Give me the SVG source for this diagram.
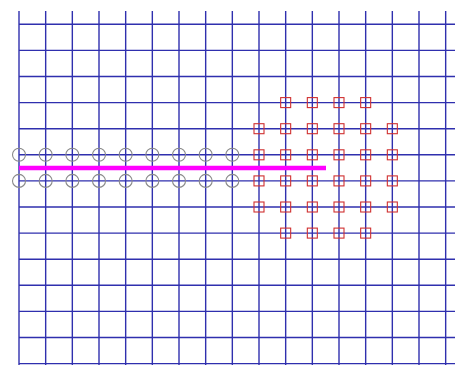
<svg xmlns="http://www.w3.org/2000/svg" width="455" height="365" viewBox="0 0 455 365">
<style>
.g{stroke:#2f2fae;stroke-width:1.4;fill:none}
.c{stroke:#8a8a8a;stroke-width:1.1;fill:none}
.s{stroke:#d03030;stroke-width:1.1;fill:none}
.m{stroke:#ff00ff;stroke-width:4.5;fill:none}
</style>
<rect width="455" height="365" fill="#ffffff"/>
<g id="grid">
<line class="g" x1="19" y1="11" x2="19" y2="365"/>
<line class="g" x1="45.67" y1="11" x2="45.67" y2="365"/>
<line class="g" x1="72.33" y1="11" x2="72.33" y2="365"/>
<line class="g" x1="99" y1="11" x2="99" y2="365"/>
<line class="g" x1="125.67" y1="11" x2="125.67" y2="365"/>
<line class="g" x1="152.33" y1="11" x2="152.33" y2="365"/>
<line class="g" x1="179" y1="11" x2="179" y2="365"/>
<line class="g" x1="205.67" y1="11" x2="205.67" y2="365"/>
<line class="g" x1="232.33" y1="11" x2="232.33" y2="365"/>
<line class="g" x1="259" y1="11" x2="259" y2="365"/>
<line class="g" x1="285.67" y1="11" x2="285.67" y2="365"/>
<line class="g" x1="312.33" y1="11" x2="312.33" y2="365"/>
<line class="g" x1="339" y1="11" x2="339" y2="365"/>
<line class="g" x1="365.67" y1="11" x2="365.67" y2="365"/>
<line class="g" x1="392.33" y1="11" x2="392.33" y2="365"/>
<line class="g" x1="419" y1="11" x2="419" y2="365"/>
<line class="g" x1="445.67" y1="11" x2="445.67" y2="365"/>
<line class="g" x1="19" y1="24.3" x2="455" y2="24.3"/>
<line class="g" x1="19" y1="50.4" x2="455" y2="50.4"/>
<line class="g" x1="19" y1="76.5" x2="455" y2="76.5"/>
<line class="g" x1="19" y1="102.6" x2="455" y2="102.6"/>
<line class="g" x1="19" y1="128.7" x2="455" y2="128.7"/>
<line class="g" x1="19" y1="154.8" x2="455" y2="154.8"/>
<line class="g" x1="19" y1="180.9" x2="455" y2="180.9"/>
<line class="g" x1="19" y1="207" x2="455" y2="207"/>
<line class="g" x1="19" y1="233.1" x2="455" y2="233.1"/>
<line class="g" x1="19" y1="259.2" x2="455" y2="259.2"/>
<line class="g" x1="19" y1="285.3" x2="455" y2="285.3"/>
<line class="g" x1="19" y1="311.4" x2="455" y2="311.4"/>
<line class="g" x1="19" y1="337.5" x2="455" y2="337.5"/>
<line class="g" x1="19" y1="363.6" x2="455" y2="363.6"/>
</g>
<g id="circles">
<circle class="c" cx="19" cy="154.8" r="6.5"/><circle class="c" cx="45.67" cy="154.8" r="6.5"/><circle class="c" cx="72.33" cy="154.8" r="6.5"/><circle class="c" cx="99" cy="154.8" r="6.5"/><circle class="c" cx="125.67" cy="154.8" r="6.5"/><circle class="c" cx="152.33" cy="154.8" r="6.5"/><circle class="c" cx="179" cy="154.8" r="6.5"/><circle class="c" cx="205.67" cy="154.8" r="6.5"/><circle class="c" cx="232.33" cy="154.8" r="6.5"/>
<circle class="c" cx="19" cy="180.9" r="6.5"/><circle class="c" cx="45.67" cy="180.9" r="6.5"/><circle class="c" cx="72.33" cy="180.9" r="6.5"/><circle class="c" cx="99" cy="180.9" r="6.5"/><circle class="c" cx="125.67" cy="180.9" r="6.5"/><circle class="c" cx="152.33" cy="180.9" r="6.5"/><circle class="c" cx="179" cy="180.9" r="6.5"/><circle class="c" cx="205.67" cy="180.9" r="6.5"/><circle class="c" cx="232.33" cy="180.9" r="6.5"/>
</g>
<g id="squares">
<rect class="s" x="280.67" y="97.6" width="10" height="10"/><rect class="s" x="307.33" y="97.6" width="10" height="10"/><rect class="s" x="334" y="97.6" width="10" height="10"/><rect class="s" x="360.67" y="97.6" width="10" height="10"/>
<rect class="s" x="254" y="123.7" width="10" height="10"/><rect class="s" x="280.67" y="123.7" width="10" height="10"/><rect class="s" x="307.33" y="123.7" width="10" height="10"/><rect class="s" x="334" y="123.7" width="10" height="10"/><rect class="s" x="360.67" y="123.7" width="10" height="10"/><rect class="s" x="387.33" y="123.7" width="10" height="10"/>
<rect class="s" x="254" y="149.8" width="10" height="10"/><rect class="s" x="280.67" y="149.8" width="10" height="10"/><rect class="s" x="307.33" y="149.8" width="10" height="10"/><rect class="s" x="334" y="149.8" width="10" height="10"/><rect class="s" x="360.67" y="149.8" width="10" height="10"/><rect class="s" x="387.33" y="149.8" width="10" height="10"/>
<rect class="s" x="254" y="175.9" width="10" height="10"/><rect class="s" x="280.67" y="175.9" width="10" height="10"/><rect class="s" x="307.33" y="175.9" width="10" height="10"/><rect class="s" x="334" y="175.9" width="10" height="10"/><rect class="s" x="360.67" y="175.9" width="10" height="10"/><rect class="s" x="387.33" y="175.9" width="10" height="10"/>
<rect class="s" x="254" y="202" width="10" height="10"/><rect class="s" x="280.67" y="202" width="10" height="10"/><rect class="s" x="307.33" y="202" width="10" height="10"/><rect class="s" x="334" y="202" width="10" height="10"/><rect class="s" x="360.67" y="202" width="10" height="10"/><rect class="s" x="387.33" y="202" width="10" height="10"/>
<rect class="s" x="280.67" y="228.1" width="10" height="10"/><rect class="s" x="307.33" y="228.1" width="10" height="10"/><rect class="s" x="334" y="228.1" width="10" height="10"/><rect class="s" x="360.67" y="228.1" width="10" height="10"/>
</g>
<g id="bar">
<line class="m" x1="19" y1="168" x2="326" y2="168"/>
</g>
</svg>
